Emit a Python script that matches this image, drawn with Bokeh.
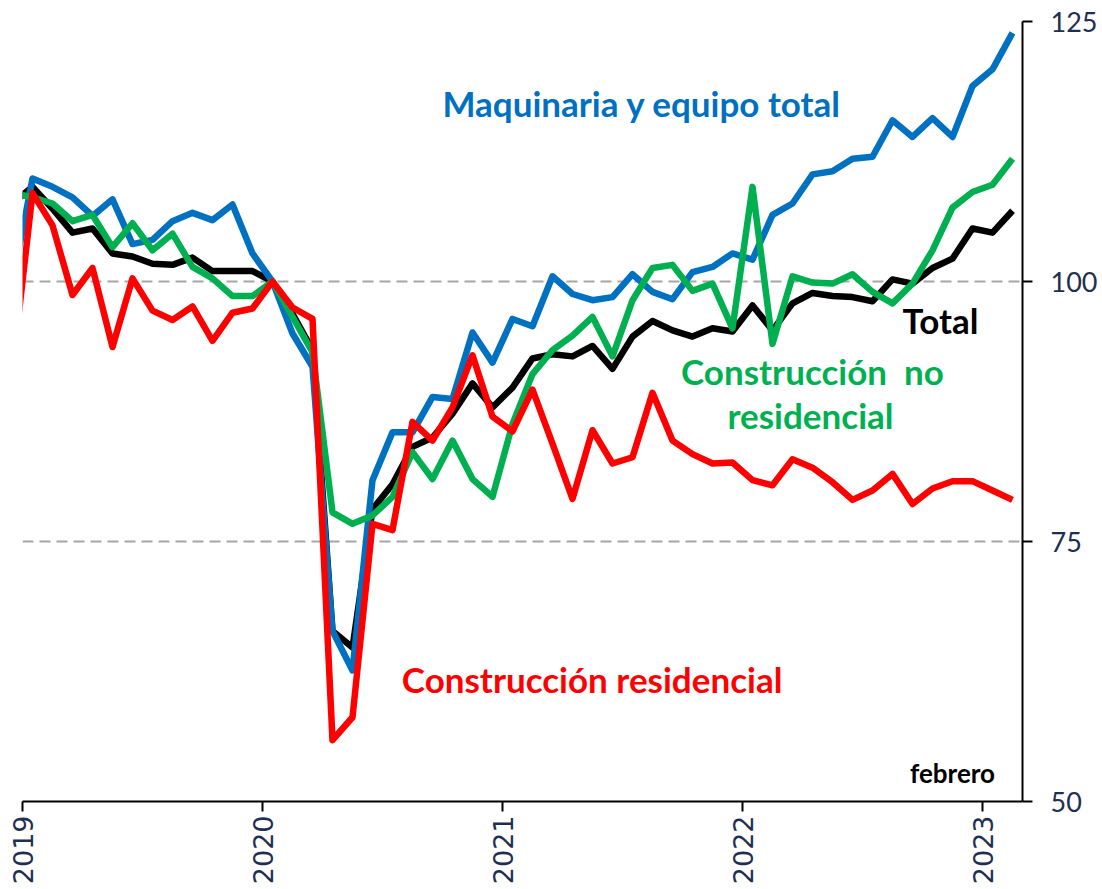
import numpy as np
import pandas as pd
from bokeh.plotting import figure
from bokeh.models import Range1d, FixedTicker, Label, ColumnDataSource
from bokeh.embed import file_html
from bokeh.resources import INLINE

# Months: Dec 2018 (partly visible at the left edge) to Feb 2023
months = pd.date_range("2018-12-01", "2023-02-01", freq="MS").strftime("%Y-%m").tolist()

year_labels = ["2019", "2020", "2021", "2022", "2023"]

maquinaria = [99.9,
    109.9, 109.1, 108.1, 106.3, 107.9, 103.6, 104.0, 105.8, 106.6, 105.9, 107.4, 102.7,
    100.0, 95.0, 91.8, 66.4, 62.6, 80.9, 85.5, 85.5, 88.9, 88.7, 95.1, 92.2,
    96.4, 95.7, 100.5, 98.8, 98.2, 98.5, 100.7, 99.0, 98.3, 100.9, 101.4, 102.7,
    102.1, 106.4, 107.5, 110.3, 110.6, 111.8, 112.0, 115.5, 113.9, 115.7, 113.9, 118.8,
    120.4, 123.9]

total = [107.5,
    109.1, 107.0, 104.7, 105.1, 102.7, 102.4, 101.7, 101.6, 102.3, 101.0, 101.0, 101.0,
    100.0, 96.9, 93.4, 66.4, 64.8, 78.1, 80.5, 84.1, 85.0, 87.3, 90.2, 87.9,
    89.8, 92.6, 93.0, 92.8, 93.8, 91.6, 94.7, 96.2, 95.3, 94.7, 95.5, 95.2,
    97.7, 95.3, 97.9, 98.9, 98.6, 98.5, 98.1, 100.2, 99.8, 101.3, 102.2, 105.1,
    104.7, 106.8]

no_residencial = [108.5,
    108.1, 107.5, 105.8, 106.4, 103.3, 105.6, 103.0, 104.6, 101.4, 100.3, 98.6, 98.6,
    100.0, 96.6, 93.2, 77.8, 76.7, 77.5, 79.3, 83.6, 81.0, 84.7, 81.0, 79.3,
    86.3, 91.1, 93.4, 94.8, 96.6, 92.8, 98.2, 101.3, 101.6, 99.1, 99.8, 95.5,
    109.1, 94.0, 100.5, 99.9, 99.8, 100.7, 99.0, 97.9, 99.8, 103.0, 107.1, 108.6,
    109.3, 111.8]

residencial = [91.5,
    108.5, 105.4, 98.7, 101.3, 93.7, 100.3, 97.2, 96.3, 97.6, 94.3, 97.0, 97.4,
    100.0, 97.5, 96.4, 55.9, 58.1, 76.7, 76.1, 86.5, 84.7, 87.9, 92.9, 87.0,
    85.6, 89.6, 84.4, 79.1, 85.7, 82.5, 83.1, 89.3, 84.7, 83.4, 82.5, 82.6,
    80.9, 80.4, 82.9, 82.1, 80.7, 79.0, 79.9, 81.5, 78.6, 80.1, 80.8, 80.8,
    79.9, 79.0]

# x position: centre of each month slot; Jan 2019 slot spans [0, 1]
x = np.arange(len(months)) - 1 + 0.5
src = ColumnDataSource(dict(x=x, maq=maquinaria, tot=total, nores=no_residencial, res=residencial))

year_ticks = [months.index(y + "-01") - 1 for y in year_labels]

p = figure(frame_width=1000, frame_height=780,
           x_range=Range1d(0, 50), y_range=Range1d(50, 125),
           y_axis_location="right", output_backend="svg", toolbar_location=None,
           min_border_left=22, min_border_top=21, min_border_right=72, min_border_bottom=80,
           background_fill_color="white", border_fill_color="white")
p.outline_line_color = None

p.xgrid.visible = False
p.ygrid.ticker = FixedTicker(ticks=[75, 100, 125])
p.ygrid.grid_line_color = "#A6A6A6"
p.ygrid.grid_line_width = 2
p.ygrid.grid_line_dash = "11 6"

tick_color = "#1F2F50"
p.yaxis.ticker = FixedTicker(ticks=[50, 75, 100, 125])
p.xaxis.ticker = FixedTicker(ticks=year_ticks)
p.xaxis.major_label_overrides = {t: lab for t, lab in zip(year_ticks, year_labels)}
p.xaxis.major_label_orientation = np.pi / 2

for ax in (p.xaxis, p.yaxis):
    ax.axis_line_color = "black"
    ax.axis_line_width = 2
    ax.major_tick_line_color = "black"
    ax.major_tick_line_width = 2
    ax.major_tick_out = 10
    ax.major_tick_in = 0
    ax.minor_tick_out = 0
    ax.minor_tick_in = 0
    ax.major_label_text_color = tick_color

p.yaxis.major_label_text_font = "Lato"
p.yaxis.major_label_text_font_size = "27px"
p.yaxis.major_label_standoff = 18
p.xaxis.major_label_text_font = "DejaVu Sans"
p.xaxis.major_label_text_font_size = "27px"
p.xaxis.major_label_standoff = 4

lw = 6.5
p.line("x", "tot", source=src, line_color="black", line_width=lw, line_join="round")
p.line("x", "maq", source=src, line_color="#0070C0", line_width=lw, line_join="round")
p.line("x", "nores", source=src, line_color="#00B050", line_width=lw, line_join="round")
p.line("x", "res", source=src, line_color="#FF0000", line_width=lw, line_join="round")

def lab(text, xx, yy, color, size="35px"):
    p.add_layout(Label(x=xx, y=yy, text=text, text_color=color, text_font="Lato",
                       text_font_style="bold", text_font_size=size,
                       text_align="center", text_baseline="alphabetic"))

lab("Maquinaria y equipo total", 30.98, 117.2, "#0070C0")
lab("Total", 45.9, 96.3, "black")
lab("Construcción\u00a0 no", 39.5, 91.4, "#00B050")
lab("residencial", 39.4, 87.2, "#00B050")
lab("Construcción residencial", 28.48, 61.8, "#FF0000")
lab("febrero", 46.5, 52.7, "black", size="26px")

open("out.html", "w").write(file_html(p, INLINE))
